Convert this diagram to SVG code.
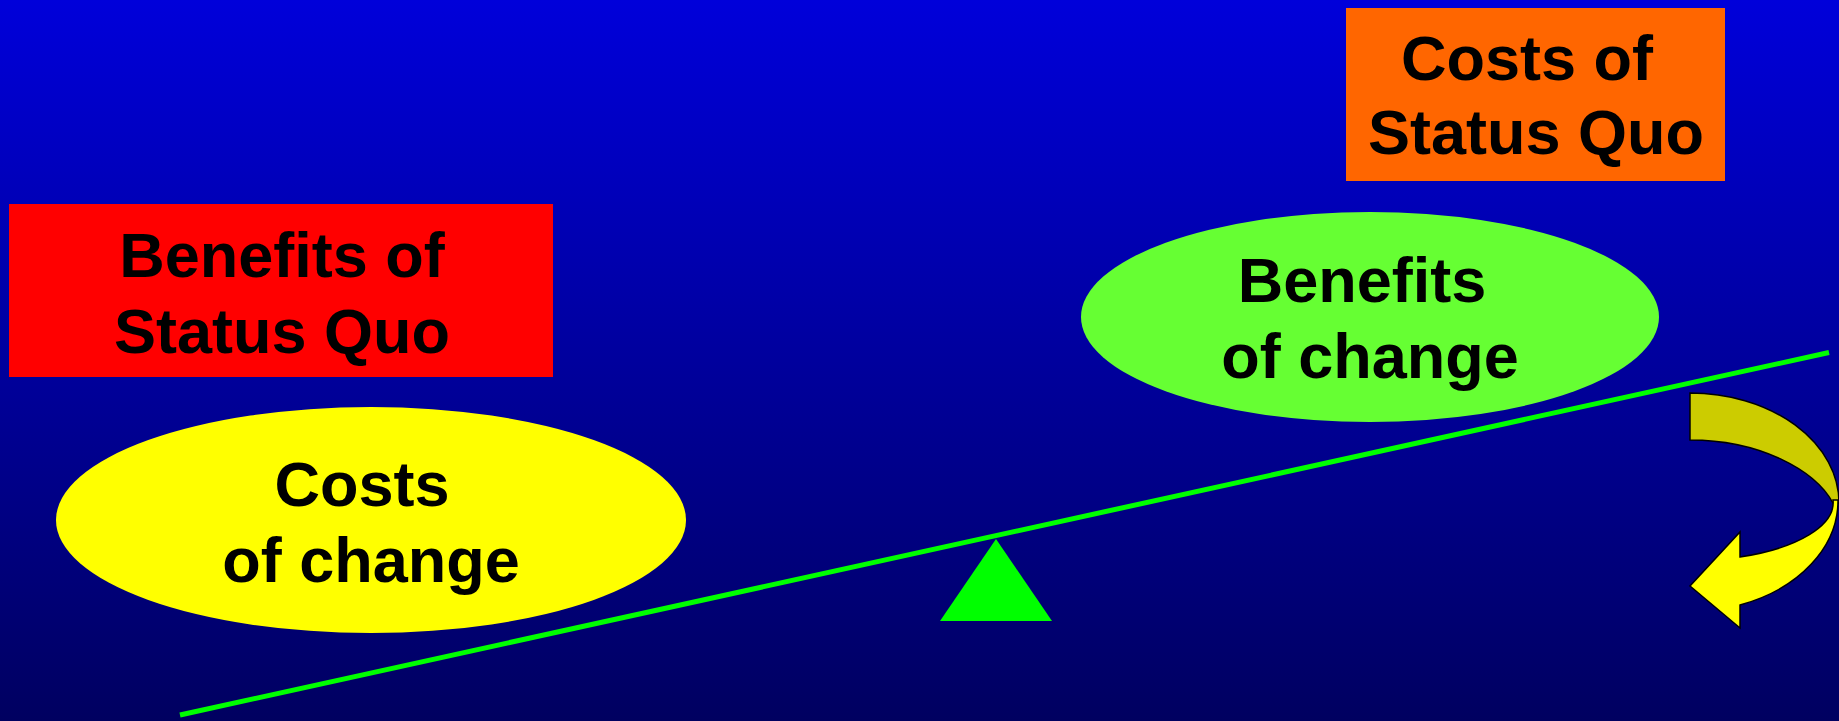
<svg xmlns="http://www.w3.org/2000/svg" width="1839" height="721" viewBox="0 0 1839 721">
  <defs>
    <linearGradient id="bg" x1="0" y1="0" x2="0" y2="1">
      <stop offset="0" stop-color="#0000DA"/>
      <stop offset="1" stop-color="#000060"/>
    </linearGradient>
  </defs>
  <style>
    .lbl { font-family: "Liberation Sans", Arial, sans-serif; font-weight: bold; font-size: 63px; fill: #000000; text-anchor: middle; }
    .arrow { stroke: #000000; stroke-width: 1.5; stroke-linejoin: miter; }
  </style>
  <rect x="0" y="0" width="1839" height="721" fill="url(#bg)"/>

  <g id="connectors">
    <line x1="180" y1="715" x2="1829" y2="352.5" stroke="#00FF00" stroke-width="5"/>
  </g>

  <g id="fulcrum">
    <polygon points="996,539 1052,621 940,621" fill="#00FF00"/>
  </g>

  <g id="costs-status-quo">
    <rect x="1346" y="8" width="379" height="173" fill="#FF6600"/>
    <text class="lbl" x="1527" y="80">Costs of</text>
    <text class="lbl" x="1536" y="154">Status Quo</text>
  </g>

  <g id="benefits-status-quo">
    <rect x="9" y="204" width="544" height="173" fill="#FF0000"/>
    <text class="lbl" x="282" y="277">Benefits of</text>
    <text class="lbl" x="282" y="353">Status Quo</text>
  </g>

  <g id="benefits-of-change">
    <ellipse cx="1370" cy="317" rx="289" ry="105" fill="#66FF33"/>
    <text class="lbl" x="1362" y="302">Benefits</text>
    <text class="lbl" x="1370" y="378">of change</text>
  </g>

  <g id="costs-of-change">
    <ellipse cx="371" cy="520" rx="315" ry="113" fill="#FFFF00"/>
    <text class="lbl" x="362" y="506">Costs</text>
    <text class="lbl" x="371" y="582">of change</text>
  </g>

  <g id="curved-arrow">
    <path class="arrow" fill="#CCCC00" d="M1690,393 A149,110 0 0 1 1839,503 L1833,503 C1815,470 1760,440 1690,440 Z"/>
    <path class="arrow" fill="#FFFF00" d="M1838,500 A149,111 0 0 1 1740,605 L1740,628 L1690,586 L1740,532 L1740,557 A143,58 0 0 0 1833,500 Z"/>
  </g>
</svg>
